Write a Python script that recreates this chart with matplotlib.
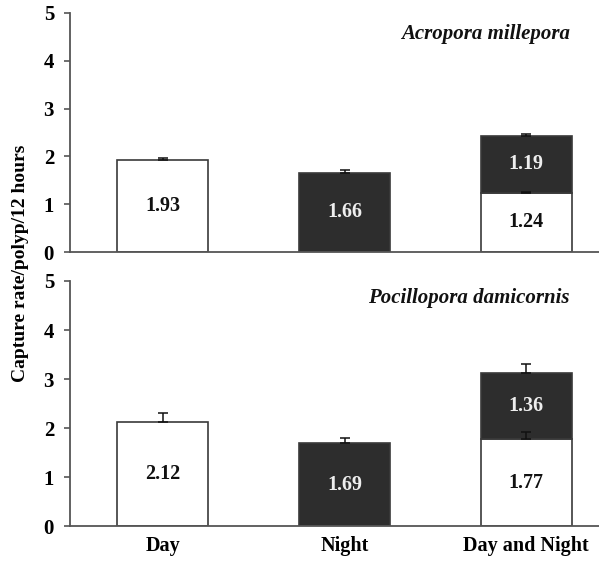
import numpy as np
import matplotlib.pyplot as plt

plt.rcParams['font.family'] = ['Liberation Serif', 'DejaVu Serif']

# Données
categories = ["Day", "Night", "Day and Night"]
especes = ["Acropora millepora", "Pocillopora damicornis"]

# capture de jour / de nuit pour chaque traitement (0 = absent)
jour = [[1.93, 0.0, 1.24], [2.12, 0.0, 1.77]]
nuit = [[0.0, 1.66, 1.19], [0.0, 1.69, 1.36]]
err_jour = [[0.03, 0.0, 0.02], [0.18, 0.0, 0.15]]
err_nuit = [[0.0, 0.06, 0.04], [0.0, 0.10, 0.18]]

couleur_nuit = "#2d2d2d"
couleur_bord = "#3a3a3a"

fig = plt.figure(figsize=(5.99, 5.62), dpi=100)
ax_haut = fig.add_axes([0.117, 0.5516, 0.883, 0.4253])
ax_bas = fig.add_axes([0.117, 0.064, 0.883, 0.436])

x = np.arange(len(categories))
largeur = 0.5

for k, ax in enumerate([ax_haut, ax_bas]):
    j = np.array(jour[k])
    n = np.array(nuit[k])
    ej = np.array(err_jour[k])
    en = np.array(err_nuit[k])

    # barres de jour (blanches)
    masque_j = j > 0
    ax.bar(x[masque_j], j[masque_j], largeur, color="white",
           edgecolor=couleur_bord, linewidth=1.2, zorder=2)

    # barres de nuit (noires), empilées sur le jour
    masque_n = n > 0
    ax.bar(x[masque_n], n[masque_n], largeur, bottom=j[masque_n],
           color=couleur_nuit, edgecolor=couleur_bord, linewidth=1.2, zorder=2)

    # barres d'erreur (vers le haut seulement), par-dessus les barres
    ax.errorbar(x[masque_j], j[masque_j],
                yerr=[np.zeros(masque_j.sum()), ej[masque_j]],
                fmt="none", ecolor="#111111", elinewidth=1.1, capsize=3.5,
                capthick=1.1, zorder=3)
    ax.errorbar(x[masque_n], (j + n)[masque_n],
                yerr=[np.zeros(masque_n.sum()), en[masque_n]],
                fmt="none", ecolor="#111111", elinewidth=1.1, capsize=3.5,
                capthick=1.1, zorder=3)

    # étiquettes des valeurs
    for i in range(len(categories)):
        if j[i] > 0:
            ax.text(x[i], j[i] / 2, f"{j[i]:.2f}", ha="center", va="center",
                    fontsize=14.5, fontweight="bold", color="#111111", zorder=4)
        if n[i] > 0:
            ax.text(x[i], j[i] + n[i] / 2, f"{n[i]:.2f}", ha="center",
                    va="center", fontsize=14.5, fontweight="bold",
                    color="#eeeeee", zorder=4)

    ax.set_xlim(-0.51, 2.4)
    ax.set_ylim(0, 5)
    ax.set_yticks(range(6))
    ax.set_yticklabels([str(v) for v in range(6)], fontsize=15,
                       fontweight="bold")
    ax.spines["top"].set_visible(False)
    ax.spines["right"].set_visible(False)
    for s in ["left", "bottom"]:
        ax.spines[s].set_color("#555555")
        ax.spines[s].set_linewidth(1.3)
    ax.tick_params(axis="y", length=4.5, width=1.2, color="#555555", pad=7)
    ax.tick_params(axis="x", length=0)

    ax.text(0.945, 0.912 if k == 0 else 0.93, especes[k],
            transform=ax.transAxes, ha="right", va="center", fontsize=15,
            fontstyle="italic", fontweight="bold", color="#111111")

ax_haut.set_xticks([])
ax_bas.set_xticks(x)
ax_bas.set_xticklabels(categories, fontsize=14.5, fontweight="bold")
ax_bas.tick_params(axis="x", pad=7)

fig.text(0.034, 0.532, "Capture rate/polyp/12 hours", rotation=90,
         ha="center", va="center", fontsize=14, fontweight="bold")

fig.savefig("out.png", dpi=100)
